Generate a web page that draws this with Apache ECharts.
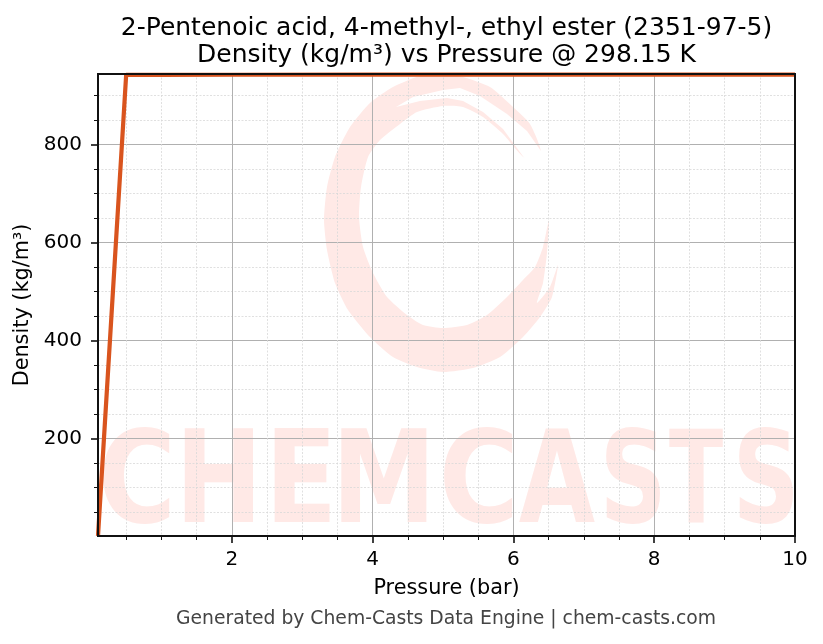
<!DOCTYPE html>
<html><head><meta charset="utf-8">
<style>html,body{margin:0;padding:0;background:#fff}#c{width:823px;height:644px}</style>
<script src="https://cdn.jsdelivr.net/npm/echarts@6/dist/echarts.min.js"></script>
</head><body><div id="c"></div>
<script>
const pressure = [0.1, 0.5, 1, 2, 4, 6, 8, 10];
const density = [0.57, 942.3, 942.4, 942.5, 942.6, 942.7, 942.8, 942.9];
const xMajor = [2, 4, 6, 8, 10];
const xMinor = [0.5, 1, 1.5, 2.5, 3, 3.5, 4.5, 5, 5.5, 6.5, 7, 7.5, 8.5, 9, 9.5];
const yMajor = [200, 400, 600, 800];
const yMinor = [50, 100, 150, 250, 300, 350, 450, 500, 550, 650, 700, 750, 850, 900];
const titleText = '2-Pentenoic acid, 4-methyl-, ethyl ester (2351-97-5)\nDensity (kg/m³) vs Pressure @ 298.15 K';
const footerText = 'Generated by Chem-Casts Data Engine | chem-casts.com';
const font = 'DejaVu Sans';
const wm = '#ffe9e6';

const ring = [[541,153],[530,124],[513,107],[490,87],[463,77],[447,75],[420,76],[393,87],[370,103],[350,127],[335,157],[327,187],[324,220],[327,250],[335,283],[348,310],[370,337],[393,357],[417,367],[443,372],[473,368],[500,357],[523,337],[540,317],[552,297],[558,265],[550,287],[537,303],[543,283],[547,253],[549,220],[543,247],[535,267],[523,280],[507,297],[487,315],[467,325],[443,328],[423,325],[407,315],[387,297],[373,273],[363,247],[359,217],[361,187],[368,157],[380,140],[400,124],[417,112],[443,106],[463,107],[483,117],[503,134],[525,158]];
const slit = [[396,107],[413,97],[443,90],[460,88],[480,96],[507,114],[527,131],[541,151],[545,162],[525,159],[503,129],[483,112],[463,101],[447,98],[420,101]];
const letters = [['C',137,68],['H',219,72],['E',301,56],['M',384,88],['C',479,70],['A',557,76],['S',633,56],['T',696,54],['S',766,56]];
const natural = {C:0.64,H:0.69,E:0.53,M:0.84,A:0.77,S:0.6,T:0.68};

const graphic = [
  {type:'polygon', z:-10, silent:true, shape:{points:ring, smooth:0.2}, style:{fill:wm}},
  {type:'polygon', z:-9, silent:true, shape:{points:slit}, style:{fill:'#fff'}}
];
letters.forEach(([ch,cx,w]) => {
  graphic.push({type:'text', z:-10, silent:true, x:cx, y:488.3, scaleX:w/(natural[ch]*138), scaleY:0.93,
    style:{text:ch, fill:wm, font:'bold 138px "'+font+'"', textAlign:'center', textVerticalAlign:'middle'}});
});
graphic.push({type:'text', x:446, y:619.5, silent:true,
  style:{text:footerText, fill:'#444', font:'18.75px "'+font+'"', textAlign:'center', textVerticalAlign:'middle'}});

const major = {color:'#b0b0b0', width:1};
const minor = {color:'#d8d8d8', width:0.8, type:[2,1.5]};
const tickStyle = {color:'#111', width:1.6};
const base = {type:'value', axisLine:{show:false}};
const xb = Object.assign({}, base, {min:0.1, max:10, interval:10});
const yb = Object.assign({}, base, {min:0.57, max:944, interval:1000});
const fs = 20;

const chart = echarts.init(document.getElementById('c'), null, {renderer:'canvas'});
chart.setOption({
  animation:false, backgroundColor:'#fff',
  title:{text:titleText, left:441.5, top:10, textAlign:'center',
    textStyle:{fontFamily:font, fontWeight:'normal', fontSize:25, lineHeight:27, color:'#000'}},
  grid:{show:true, z:5, left:98, right:28, top:74, bottom:108, backgroundColor:'transparent', borderColor:'#111', borderWidth:2},
  graphic,
  xAxis:[
    Object.assign({}, xb, {position:'bottom', name:'Pressure (bar)', nameLocation:'middle', nameGap:42,
      nameTextStyle:{fontFamily:font, fontSize:20.8, color:'#000'},
      axisTick:{show:true, length:7, lineStyle:tickStyle, customValues:xMajor},
      axisLabel:{show:true, customValues:xMajor, margin:14, fontFamily:font, fontSize:fs, color:'#000', formatter:v=>String(v)},
      splitLine:{show:true, customValues:xMajor, lineStyle:major}}),
    Object.assign({}, xb, {position:'bottom',
      axisTick:{show:true, length:4, lineStyle:{color:'#111', width:1}, customValues:xMinor},
      axisLabel:{show:false},
      splitLine:{show:true, customValues:xMinor, lineStyle:minor}})
  ],
  yAxis:[
    Object.assign({}, yb, {position:'left', name:'Density (kg/m³)', nameLocation:'middle', nameGap:63, nameRotate:90,
      nameTextStyle:{fontFamily:font, fontSize:20.8, color:'#000'},
      axisTick:{show:true, length:7, lineStyle:tickStyle, customValues:yMajor},
      axisLabel:{show:true, customValues:yMajor, margin:16, fontFamily:font, fontSize:fs, color:'#000', formatter:v=>String(v)},
      splitLine:{show:true, customValues:yMajor, lineStyle:major}}),
    Object.assign({}, yb, {position:'left',
      axisTick:{show:true, length:4, lineStyle:{color:'#111', width:1}, customValues:yMinor},
      axisLabel:{show:false},
      splitLine:{show:true, customValues:yMinor, lineStyle:minor}})
  ],
  series:[{type:'line', xAxisIndex:0, yAxisIndex:0, z:3, symbol:'none', clip:true,
    data:pressure.map((p,i)=>[p,density[i]]),
    lineStyle:{color:'#d9541e', width:4.2}}]
});
</script></body></html>
